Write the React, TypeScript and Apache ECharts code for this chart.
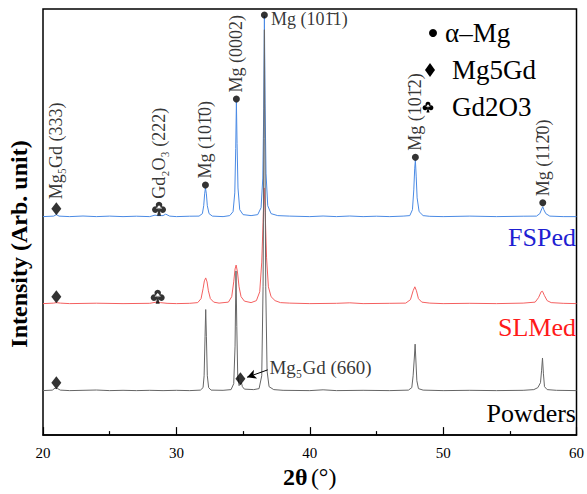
import React, { useEffect, useRef } from "react";
import * as echarts from "echarts";

// 2θ (°) vs intensity (arbitrary units, traces already stacked with offsets)
const fsped: [number, number][] = [
  [20, 221], [20.8, 221.5], [21.0, 223], [21.2, 221.5], [22, 221], [23, 221.6], [24, 221], [25, 221.5], [26, 221], [27, 221.4],
  [28, 221], [28.4, 222.5], [28.6, 222], [29.0, 222], [29.2, 223.5], [29.5, 221.5], [30, 221], [31, 221.4], [31.7, 221.5],
  [31.95, 224], [32.05, 232], [32.12, 244], [32.18, 250], [32.25, 244], [32.32, 232], [32.45, 224], [32.7, 221.5], [33.5, 221],
  [34.0, 222], [34.25, 226], [34.38, 245], [34.45, 290], [34.5, 337], [34.55, 295], [34.62, 250], [34.75, 228], [35.0, 223],
  [35.6, 222], [36.1, 223], [36.35, 230], [36.48, 260], [36.55, 330], [36.6, 424], [36.65, 335], [36.72, 265], [36.85, 232],
  [37.1, 224], [37.6, 222], [38.5, 221.5], [40, 221], [41, 221.6], [42, 221], [43, 221.6], [44, 221], [45, 221.4], [46, 221],
  [47, 221.5], [47.5, 222], [47.7, 228], [47.8, 248], [47.87, 270], [47.92, 278], [47.98, 262], [48.05, 240], [48.2, 226],
  [48.5, 222], [49, 221.3], [50, 221], [52, 221.5], [54, 221], [56, 221.4], [57, 221.5], [57.25, 224], [57.4, 229],
  [57.47, 231], [57.55, 228], [57.7, 224], [58, 221.5], [59, 221], [60, 221],
];
const slmed: [number, number][] = [
  [20, 133], [20.8, 133.5], [21.0, 134], [21.3, 133.5], [22, 133], [24, 133.4], [26, 133], [28, 133.3], [28.5, 134.5],
  [28.8, 134], [29.3, 133.3], [30, 133], [31, 133.3], [31.6, 134], [31.85, 138], [32.0, 148], [32.1, 156], [32.2, 159],
  [32.3, 155], [32.4, 146], [32.55, 138], [32.8, 134.5], [33.2, 133.5], [33.9, 134.5], [34.15, 140], [34.3, 155], [34.4, 168],
  [34.48, 172], [34.58, 165], [34.7, 150], [34.85, 140], [35.1, 135.5], [35.6, 134], [36.0, 136], [36.25, 145], [36.4, 175],
  [36.5, 215], [36.58, 250], [36.66, 225], [36.76, 180], [36.9, 150], [37.1, 140], [37.4, 136], [37.8, 134], [38.5, 133.5],
  [40, 133], [42, 133.3], [43, 133.8], [44, 133], [46, 133.3], [47.2, 133.5], [47.55, 137], [47.75, 146], [47.88, 150],
  [48.0, 146], [48.15, 138], [48.4, 134.5], [49, 133.5], [50, 133], [52, 133.3], [54, 133], [56, 133.5], [56.9, 134.5],
  [57.15, 139], [57.35, 145], [57.45, 145.5], [57.6, 141], [57.8, 136], [58.1, 134], [59, 133.3], [60, 133],
];
const powders: [number, number][] = [
  [20, 45], [20.7, 45.5], [20.9, 47.5], [21.1, 47], [21.3, 45.5], [22, 45], [23, 45.3], [24, 45.6], [24.5, 45.3], [25, 45],
  [26, 45.3], [27, 45], [28, 45.3], [29, 45], [30, 45.3], [31, 45], [31.8, 45.5], [32.0, 48], [32.08, 60], [32.15, 100],
  [32.2, 127], [32.25, 100], [32.32, 60], [32.42, 48], [32.6, 45.5], [33.5, 45.3], [34.1, 46], [34.3, 52], [34.4, 90],
  [34.47, 166], [34.53, 110], [34.6, 60], [34.7, 50], [34.8, 52], [34.88, 53], [34.95, 49], [35.1, 46.5], [35.8, 46],
  [36.2, 47], [36.4, 60], [36.5, 150], [36.56, 300], [36.6, 410], [36.64, 300], [36.7, 150], [36.8, 65], [36.95, 49],
  [37.3, 46], [38, 45.3], [40, 45], [41, 45.8], [42, 45], [44, 45.3], [46, 45], [47.4, 45.5], [47.65, 48], [47.75, 60],
  [47.85, 80], [47.9, 92], [47.96, 75], [48.03, 55], [48.15, 47], [48.5, 45.5], [50, 45], [52, 45.3], [54, 45], [56, 45.3],
  [56.8, 46], [57.1, 48], [57.3, 53], [57.38, 65], [57.45, 78], [57.52, 62], [57.6, 49], [57.8, 46], [58.5, 45.3], [60, 45],
];

// phase markers
const mgPeaks: [number, number, string][] = [
  [32.18, 253, "Mg (101\u03040)"],
  [34.5, 340, "Mg (0002)"],
  [36.6, 425, "Mg (101\u03041)"],
  [47.92, 281, "Mg (101\u03042)"],
  [57.47, 235, "Mg (112\u03040)"],
];
const mg5gdPeaks: [number, number, string][] = [
  [21.0, 229, "Mg\u2085Gd (333)"],
  [21.0, 140, ""],
  [21.0, 53, ""],
  [34.8, 57, "Mg\u2085Gd (660)"],
];
const gd2o3Peaks: [number, number, string][] = [
  [28.7, 229, "Gd\u2082O\u2083 (222)"],
  [28.6, 140, ""],
];

const xTicks = { min: 20, max: 60, interval: 10 };
const legendItems = ["\u03b1\u2013Mg", "Mg5Gd", "Gd2O3"];
const traceNames = ["FSPed", "SLMed", "Powders"];

const CLUB_D =
  "M50,6 A21,21 0 1,1 49.9,6 Z M26,36 A21,21 0 1,1 25.9,36 Z M74,36 A21,21 0 1,1 73.9,36 Z M30,50 L70,50 L50,28 Z M50,45 L63,96 L37,96 Z";
const CLUB = "path://" + CLUB_D;

const FONT = "'Liberation Serif', 'Times New Roman', serif";

export default function App() {
  const ref = useRef<HTMLDivElement>(null);
  useEffect(() => {
    if (!ref.current) return;
    try {
      echarts.graphic.registerShape("club", echarts.graphic.extendPath(CLUB_D, {}));
    } catch (e) {}
    const chart = echarts.init(ref.current, undefined, { renderer: "svg" });
    const rotLabel = (text: string) =>
      text
        ? {
            show: true,
            formatter: text,
            rotate: 90,
            position: "top",
            align: "left",
            verticalAlign: "middle",
            distance: 3,
            fontSize: 18,
            fontFamily: FONT,
            color: "#000",
          }
        : { show: false };
    const lineSeries = (name: string, data: [number, number][], color: string) => ({
      name,
      type: "line",
      data,
      showSymbol: false,
      symbol: "none",
      lineStyle: { color, width: 1 },
      itemStyle: { color },
      z: 2,
    });
    chart.setOption({
      animation: false,
      backgroundColor: "#fff",
      grid: { left: 43, right: 10, top: 9, bottom: 54, show: true, borderColor: "#000", borderWidth: 1.5 },
      xAxis: {
        type: "value",
        min: xTicks.min,
        max: xTicks.max,
        interval: xTicks.interval,
        axisLine: { show: true, lineStyle: { color: "#000", width: 1.5 } },
        axisTick: { show: true, inside: true, length: 8, lineStyle: { color: "#000", width: 1.2 } },
        minorTick: { show: true, splitNumber: 2, length: 4, lineStyle: { color: "#000", width: 1.2 } },
        splitLine: { show: false },
        axisLabel: { color: "#000", fontSize: 15, fontFamily: FONT, margin: 10 },
        name: "{b|2\u03b8} {n|(\u00b0)}",
        nameLocation: "middle",
        nameGap: 25,
        nameTextStyle: {
          rich: {
            b: { fontSize: 24, fontWeight: "bold", fontFamily: FONT, color: "#000" },
            n: { fontSize: 24, fontFamily: FONT, color: "#000" },
          },
        },
      },
      yAxis: {
        type: "value",
        min: 0,
        max: 431,
        axisLine: { show: false },
        axisTick: { show: false },
        axisLabel: { show: false },
        splitLine: { show: false },
      },
      series: [
        lineSeries(traceNames[0], fsped, "#4a8ae4"),
        lineSeries(traceNames[1], slmed, "#f46060"),
        lineSeries(traceNames[2], powders, "#666666"),
        {
          name: legendItems[0],
          type: "scatter",
          symbol: "circle",
          symbolSize: 7,
          itemStyle: { color: "#000" },
          z: 5,
          data: mgPeaks.map(([x, y, t], i) => ({
            value: [x, y],
            label:
              i === 2
                ? { show: true, formatter: t, position: "right", distance: 3, offset: [0, 4], fontSize: 18, fontFamily: FONT, color: "#000" }
                : rotLabel(t),
          })),
        },
        {
          name: legendItems[1],
          type: "scatter",
          symbol: "diamond",
          symbolSize: [10, 13],
          itemStyle: { color: "#000" },
          z: 5,
          data: mg5gdPeaks.map(([x, y, t], i) => ({
            value: [x, y],
            label:
              i === 3
                ? { show: true, formatter: t, position: "right", distance: 5, offset: [19, -11], fontSize: 19, fontFamily: FONT, color: "#000" }
                : rotLabel(t),
          })),
          markLine: {
            silent: true,
            symbol: ["none", "arrow"],
            symbolSize: [7, 9],
            label: { show: false },
            lineStyle: { color: "#000", width: 1, type: "solid" },
            data: [[{ coord: [36.85, 66] }, { coord: [35.3, 58.5] }]],
          },
        },
        {
          name: legendItems[2],
          type: "scatter",
          symbol: CLUB,
          symbolSize: [14, 14],
          itemStyle: { color: "#000" },
          z: 5,
          data: gd2o3Peaks.map(([x, y, t]) => ({ value: [x, y], label: rotLabel(t) })),
        },
      ],
      graphic: [
        {
          type: "text",
          x: 19,
          y: 244,
          rotation: Math.PI / 2,
          style: {
            text: "Intensity (Arb. unit)",
            fontSize: 24,
            fontWeight: "bold",
            fontFamily: FONT,
            fill: "#000",
            align: "center",
            verticalAlign: "middle",
          },
        },
        { type: "circle", shape: { cx: 433, cy: 33, r: 4 }, style: { fill: "#000" } },
        { type: "polygon", shape: { points: [[430, 63], [435, 70], [430, 77], [425, 70]] }, style: { fill: "#000" } },
        { type: "club", x: 422, y: 101, scaleX: 0.12, scaleY: 0.12, style: { fill: "#000" } },
        { type: "text", x: 445, y: 33, style: { text: legendItems[0], fontSize: 27, fontFamily: FONT, fill: "#000", verticalAlign: "middle" } },
        { type: "text", x: 452, y: 70, style: { text: legendItems[1], fontSize: 27, fontFamily: FONT, fill: "#000", verticalAlign: "middle" } },
        { type: "text", x: 452, y: 107, style: { text: legendItems[2], fontSize: 27, fontFamily: FONT, fill: "#000", verticalAlign: "middle" } },
        { type: "text", x: 576, y: 237, style: { text: traceNames[0], fontSize: 26, fontFamily: FONT, fill: "#1f1fd2", align: "right", verticalAlign: "middle" } },
        { type: "text", x: 576, y: 327, style: { text: traceNames[1], fontSize: 26, fontFamily: FONT, fill: "#ff1a1a", align: "right", verticalAlign: "middle" } },
        { type: "text", x: 576, y: 413, style: { text: traceNames[2], fontSize: 26, fontFamily: FONT, fill: "#000", align: "right", verticalAlign: "middle" } },
      ],
    });
    return () => chart.dispose();
  }, []);
  return <div ref={ref} style={{ position: "fixed", left: 0, top: 0, width: 587, height: 494 }} />;
}
